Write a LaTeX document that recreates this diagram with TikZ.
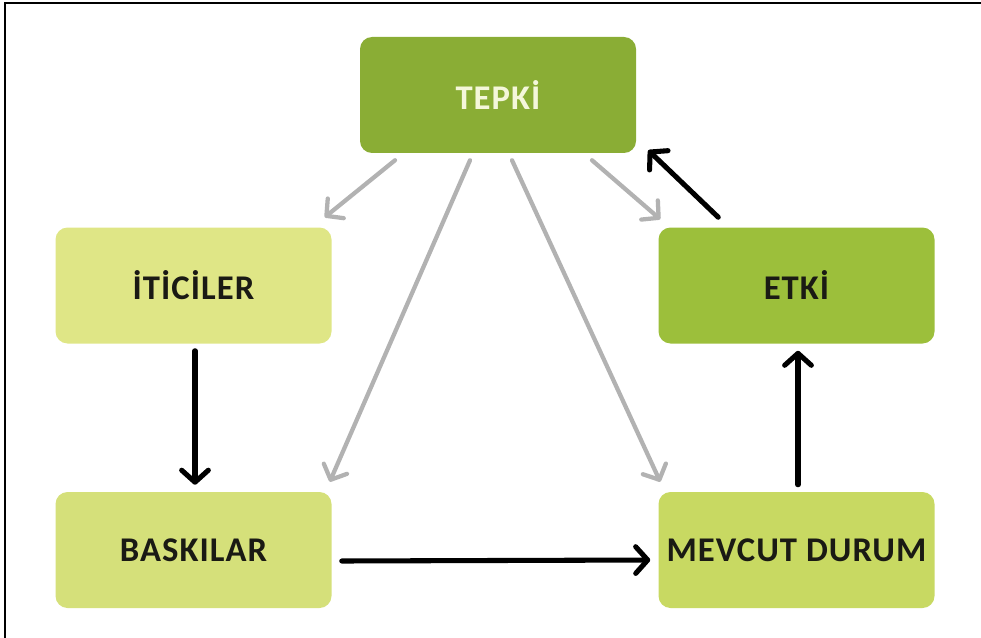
\documentclass[tikz,border=0pt]{standalone}
\usepackage{fontspec}
\setmainfont{Carlito}[LetterSpace=3]
\usetikzlibrary{arrows.meta,calc}
\definecolor{gOlive}{HTML}{8AAD35}
\definecolor{gLime}{HTML}{9CBF3B}
\definecolor{gPale}{HTML}{DFE686}
\definecolor{gSoft}{HTML}{D5E07A}
\definecolor{gMid}{HTML}{C8D962}
\definecolor{txtDark}{HTML}{1A1A14}
\definecolor{txtLight}{HTML}{F4F7DA}
\definecolor{arrGray}{HTML}{B2B2B2}
\tikzset{
  box/.style={rounded corners=9pt, minimum width=207pt, minimum height=87pt,
    inner sep=0pt, font=\fontsize{26}{30}\selectfont\bfseries, text=txtDark},
  grayarr/.style={draw=arrGray, line width=3.2pt, line cap=round,
    -{Straight Barb[length=9pt,width=19pt,line cap=round,line join=round]}},
  blackarr/.style={draw=black, line width=3.8pt, line cap=round,
    -{Straight Barb[length=9pt,width=20pt,line cap=round,line join=round]}}
}
\begin{document}
\begin{tikzpicture}[x=0.75pt,y=-0.75pt]
\useasboundingbox (0,0) rectangle (981,638);
% frame lines
\draw[line width=1.5pt] (5,638) -- (5,3) -- (981,3);
% boxes
\node[box, fill=gOlive, text=txtLight] (tepki) at (498,95) {TEPKİ};
\node[box, fill=gPale] (iticiler) at (193.5,285.5) {İTİCİLER};
\node[box, fill=gLime] (etki) at (796.5,285.5) {ETKİ};
\node[box, fill=gSoft] (baskilar) at (193.5,550) {BASKILAR};
\node[box, fill=gMid] (mevcut) at (796.5,550) {MEVCUT DURUM};
% grey arrows leaving the top box
\draw[grayarr] ($(tepki.south)+(-103,7)$) -- ($(iticiler.north east)+(-7,-10)$);
\draw[grayarr] ($(tepki.south)+(-28,7)$) -- ($(baskilar.north east)+(-2,-10)$);
\draw[grayarr] ($(tepki.south)+(14,7)$) -- ($(mevcut.north west)+(2,-10)$);
\draw[grayarr] ($(tepki.south)+(94,7)$) -- ($(etki.north west)+(2,-8)$);
% black cycle arrows
\draw[blackarr] ($(etki.north west)+(60,-10)$) -- ($(tepki.south east)+(12,-3)$);
\draw[blackarr] ($(iticiler.south)+(1.5,7)$) -- ($(baskilar.north)+(1.5,-7)$);
\draw[blackarr] ($(baskilar.east)+(10,11)$) -- ($(mevcut.west)+(-8,10)$);
\draw[blackarr] ($(mevcut.north)+(1.5,-7)$) -- ($(etki.south)+(1.5,7)$);
\end{tikzpicture}
\end{document}
